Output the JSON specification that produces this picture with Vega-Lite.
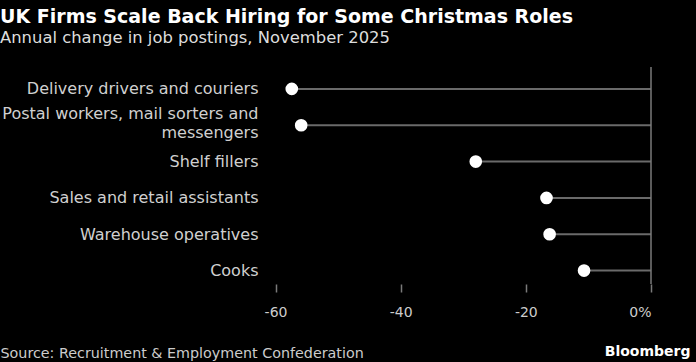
{
  "$schema": "https://vega.github.io/schema/vega-lite/v6.json",
  "width": 388,
  "height": 217,
  "autosize": {"type": "none"},
  "padding": {"left": 263, "top": 67, "right": 45, "bottom": 78},
  "background": "#000000",
  "title": {
    "text": "UK Firms Scale Back Hiring for Some Christmas Roles",
    "subtitle": "Annual change in job postings, November 2025",
    "anchor": "start",
    "frame": "group",
    "dx": -263,
    "offset": 20,
    "font": "DejaVu Sans",
    "fontSize": 19,
    "fontWeight": "bold",
    "color": "#ffffff",
    "subtitleFont": "DejaVu Sans",
    "subtitleFontSize": 16.4,
    "subtitleColor": "#dddddd",
    "subtitlePadding": 3
  },
  "config": {
    "view": {"stroke": null},
    "font": "DejaVu Sans"
  },
  "data": {
    "values": [
      {"role": "Delivery drivers and couriers", "change": -57.4},
      {"role": "Postal workers, mail sorters and messengers", "change": -55.9},
      {"role": "Shelf fillers", "change": -28.0},
      {"role": "Sales and retail assistants", "change": -16.7},
      {"role": "Warehouse operatives", "change": -16.2},
      {"role": "Cooks", "change": -10.7}
    ]
  },
  "encoding": {
    "y": {
      "field": "role",
      "type": "nominal",
      "sort": null,
      "scale": {"type": "point", "padding": 0.486, "align": 0.62},
      "axis": {
        "title": "Source: Recruitment & Employment Confederation",
        "titleAngle": 0,
        "titleX": -263,
        "titleY": 290,
        "titleAlign": "left",
        "titleBaseline": "alphabetic",
        "titleFont": "DejaVu Sans",
        "titleFontSize": 14.3,
        "titleFontWeight": "normal",
        "titleColor": "#cccccc",
        "domain": false,
        "ticks": false,
        "grid": false,
        "labelPadding": 5,
        "labelFont": "DejaVu Sans",
        "labelFontSize": 16,
        "labelColor": "#d0d0d0",
        "labelLineHeight": 19,
        "labelLimit": 300,
        "labelOffset": {"condition": {"test": "datum.value == 'Postal workers, mail sorters and messengers'", "value": -12}, "value": 0},
        "labelExpr": "datum.label == 'Postal workers, mail sorters and messengers' ? ['Postal workers, mail sorters and', 'messengers'] : datum.label"
      }
    }
  },
  "layer": [
    {
      "mark": {"type": "rule", "color": "#6a6a6a", "strokeWidth": 2},
      "encoding": {
        "x": {
          "field": "change",
          "type": "quantitative",
          "scale": {"domain": [-62, 0], "nice": false},
          "axis": {
            "values": [-60, -40, -20, 0],
            "labelExpr": "datum.value == 0 ? '0%' : '' + datum.value",
            "domain": false,
            "grid": false,
            "ticks": true,
            "tickSize": 8,
            "tickWidth": 1.5,
            "tickColor": "#7a7a7a",
            "labelPadding": 13,
            "labelFont": "DejaVu Sans",
            "labelFontSize": 14,
            "labelColor": "#cccccc",
            "title": "Bloomberg",
            "titleX": 427,
            "titleY": 71,
            "titleAlign": "right",
            "titleAnchor": null,
            "titleBaseline": "alphabetic",
            "titleFont": "DejaVu Sans",
            "titleFontSize": 14,
            "titleFontWeight": "bold",
            "titleColor": "#ffffff"
          }
        },
        "x2": {"datum": 0}
      }
    },
    {
      "data": {"values": [{"zero": 0}]},
      "mark": {"type": "rule", "color": "#7a7a7a", "strokeWidth": 1.5},
      "encoding": {
        "x": {"field": "zero", "type": "quantitative"},
        "y": null
      }
    },
    {
      "mark": {"type": "point", "filled": true, "color": "#ffffff", "opacity": 1, "size": 160},
      "encoding": {
        "x": {"field": "change", "type": "quantitative"}
      }
    }
  ]
}
